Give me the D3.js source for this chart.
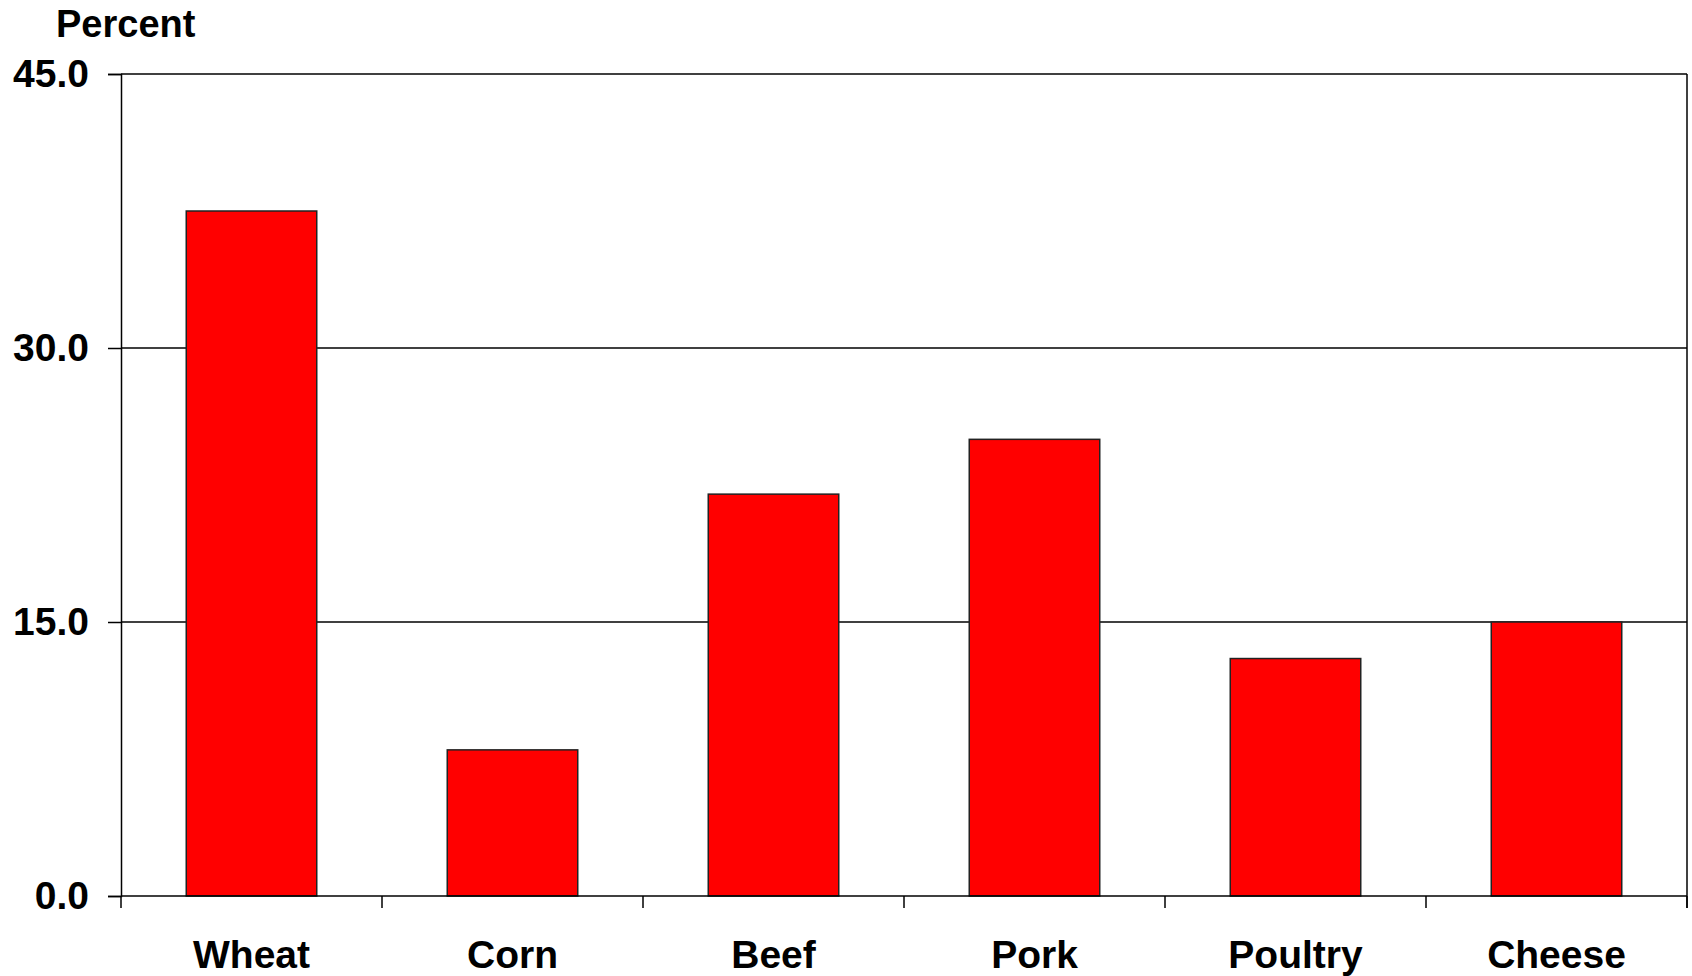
<!DOCTYPE html>
<html>
<head>
<meta charset="utf-8">
<script src="https://cdn.jsdelivr.net/npm/d3@7"></script>
<style>
  html, body { margin: 0; padding: 0; background: #fff; }
  svg { display: block; }
  text { font-family: "Liberation Sans", Arial, sans-serif; font-weight: bold; fill: #000; }
</style>
</head>
<body>
<svg id="chart" width="1692" height="976"></svg>
<script>
// Share of each commodity, percent
const categories = ["Wheat", "Corn", "Beef", "Pork", "Poultry", "Cheese"];
const values = [37.5, 8.0, 22.0, 25.0, 13.0, 15.0];
const yTicks = [0, 15, 30, 45];
const yTitle = "Percent";

const W = 1692, H = 976;
const margin = { left: 121, right: 5, top: 74, bottom: 80 };
const x0 = margin.left, x1 = W - margin.right;
const y0 = H - margin.bottom, y1 = margin.top;

const svg = d3.select("#chart");

const x = d3.scaleBand().domain(categories).range([x0, x1]).paddingInner(0.5).paddingOuter(0.25);
const y = d3.scaleLinear().domain([0, 45]).range([y0, y1]);

// Horizontal gridlines (non-zero ticks)
svg.append("g")
  .selectAll("line")
  .data(yTicks.filter(d => d > 0))
  .join("line")
  .attr("x1", x0).attr("x2", x1)
  .attr("y1", d => y(d)).attr("y2", d => y(d))
  .attr("stroke", "#000").attr("stroke-width", 1.5);

// Right frame edge
svg.append("line")
  .attr("x1", x1).attr("x2", x1)
  .attr("y1", y1).attr("y2", y0 + 12)
  .attr("stroke", "#000").attr("stroke-width", 1.5);

// Bars
svg.append("g")
  .selectAll("rect")
  .data(values)
  .join("rect")
  .attr("x", (d, i) => x(categories[i]))
  .attr("width", x.bandwidth())
  .attr("y", d => y(d))
  .attr("height", d => y(0) - y(d))
  .attr("fill", "#ff0000")
  .attr("stroke", "#222")
  .attr("stroke-width", 1.5);

// Y axis
const yAxis = svg.append("g")
  .attr("transform", `translate(${x0},0)`)
  .call(d3.axisLeft(y).tickValues(yTicks).tickFormat(d3.format(".1f")).tickSize(13).tickPadding(19));
yAxis.select(".domain").attr("stroke", "#000").attr("stroke-width", 1.5);
yAxis.selectAll(".tick line").attr("stroke", "#000").attr("stroke-width", 1.5);
yAxis.selectAll(".tick text")
  .attr("font-size", 39)
  .attr("font-family", "'Liberation Sans', Arial, sans-serif")
  .attr("font-weight", "bold")
  .attr("fill", "#000");

// X axis baseline with boundary ticks between categories
const boundaries = d3.range(categories.length + 1).map(i => x0 + i * (x1 - x0) / categories.length);
svg.append("line")
  .attr("x1", x0).attr("x2", x1)
  .attr("y1", y0).attr("y2", y0)
  .attr("stroke", "#000").attr("stroke-width", 1.5);
svg.append("g")
  .selectAll("line")
  .data(boundaries)
  .join("line")
  .attr("x1", d => d).attr("x2", d => d)
  .attr("y1", y0).attr("y2", y0 + 12)
  .attr("stroke", "#000").attr("stroke-width", 1.5);

// Category labels
svg.append("g")
  .selectAll("text")
  .data(categories)
  .join("text")
  .attr("x", d => x(d) + x.bandwidth() / 2)
  .attr("y", 968)
  .attr("text-anchor", "middle")
  .attr("font-size", 39)
  .text(d => d);

// Axis title
svg.append("text")
  .attr("x", 56)
  .attr("y", 37)
  .attr("font-size", 38)
  .text(yTitle);
</script>
</body>
</html>
